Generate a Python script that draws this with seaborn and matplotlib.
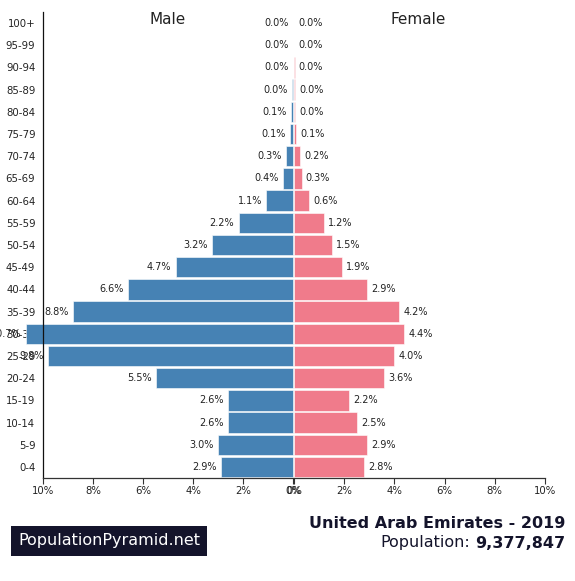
import numpy as np
import pandas as pd
import seaborn as sns
import matplotlib.pyplot as plt

# age groups, top of the pyramid first
ages = ['100+', '95-99', '90-94', '85-89', '80-84', '75-79', '70-74', '65-69',
        '60-64', '55-59', '50-54', '45-49', '40-44', '35-39', '30-34', '25-29',
        '20-24', '15-19', '10-14', '5-9', '0-4']
# share of total population (%)
male = [0.01, 0.01, 0.02, 0.04, 0.1, 0.13, 0.3, 0.42, 1.08, 2.18, 3.24, 4.7,
        6.6, 8.8, 10.7, 9.8, 5.5, 2.6, 2.6, 3.0, 2.9]
female = [0.0, 0.01, 0.02, 0.04, 0.04, 0.08, 0.24, 0.3, 0.6, 1.2, 1.5, 1.9,
          2.9, 4.2, 4.4, 4.0, 3.6, 2.2, 2.5, 2.9, 2.8]
xticks = [0, 2, 4, 6, 8, 10]

df = pd.DataFrame({'age': ages, 'male': male, 'female': female})

sns.set_style('white')
plt.rcParams['font.family'] = ['DejaVu Sans']

fig = plt.figure(figsize=(5.75, 5.81), dpi=100)
bottom = 1 - 478 / 581
height = 466 / 581
axL = fig.add_axes([43 / 575, bottom, 250 / 575, height])
axR = fig.add_axes([294 / 575, bottom, 251 / 575, height], sharey=axL)

blue = '#4682b4'
pink = '#f07b8b'

sns.barplot(data=df, x='male', y='age', orient='h', color=blue, saturation=1,
            width=0.92, ax=axL, edgecolor='white', linewidth=0.4)
sns.barplot(data=df, x='female', y='age', orient='h', color=pink, saturation=1,
            width=0.92, ax=axR, edgecolor='white', linewidth=0.4)

# the tallest male bar runs past the 10% edge, as on the original
for p in axL.patches:
    p.set_clip_on(False)
axL.set_zorder(3)

axL.set_xlim(10, 0)
axR.set_xlim(0, 10)
axL.set_ylim(20.5, -0.5)

for ax in (axL, axR):
    ax.set_xlabel('')
    ax.set_ylabel('')
    ax.set_xticks(xticks)
    ax.set_xticklabels([f'{t}%' for t in xticks], fontsize=7.3, color='#222222')
    ax.tick_params(axis='x', bottom=True, length=4, width=0.8, color='#333333', pad=2)
    ax.spines['top'].set_visible(False)
    ax.spines['right'].set_visible(False)
    ax.spines['bottom'].set_color('#333333')
    ax.spines['bottom'].set_linewidth(0.9)
axL.patch.set_alpha(0)

axL.spines['left'].set_color('#111111')
axL.spines['left'].set_linewidth(0.9)
axL.tick_params(axis='y', left=False, labelsize=7.3, labelcolor='#222222', pad=2)
axR.spines['left'].set_visible(False)
axR.tick_params(axis='y', left=False, labelleft=False)

# value labels next to each bar
for i, (m, f) in enumerate(zip(male, female)):
    axL.annotate(f'{m:.1f}%', (m, i), xytext=(-3, 0), textcoords='offset points',
                 ha='right', va='center', fontsize=7, color='#222222',
                 annotation_clip=False)
    axR.annotate(f'{f:.1f}%', (f, i), xytext=(3, 0), textcoords='offset points',
                 ha='left', va='center', fontsize=7, color='#222222')

fig.text(168 / 575, 1 - 19 / 581, 'Male', ha='center', va='center',
         fontsize=11, color='#222222')
fig.text(418 / 575, 1 - 19 / 581, 'Female', ha='center', va='center',
         fontsize=11, color='#222222')

# footer
fig.text(18 / 575, 1 - 541 / 581, 'PopulationPyramid.net', ha='left', va='center',
         fontsize=11.5, color='white',
         bbox=dict(boxstyle='square,pad=0.45', facecolor='#14142b', edgecolor='none'))
fig.text(565 / 575, 1 - 524 / 581, 'United Arab Emirates - 2019', ha='right',
         va='center', fontsize=11.5, fontweight='bold', color='#14142b')
num = fig.text(565 / 575, 1 - 543 / 581, '9,377,847', ha='right', va='center',
               fontsize=11.5, fontweight='bold', color='#14142b')
fig.canvas.draw()
bb = num.get_window_extent()
fig.text((bb.x0 - 5) / fig.bbox.width, 1 - 543 / 581, 'Population:', ha='right',
         va='center', fontsize=11.5, color='#14142b')

fig.savefig('out.png', dpi=100)
